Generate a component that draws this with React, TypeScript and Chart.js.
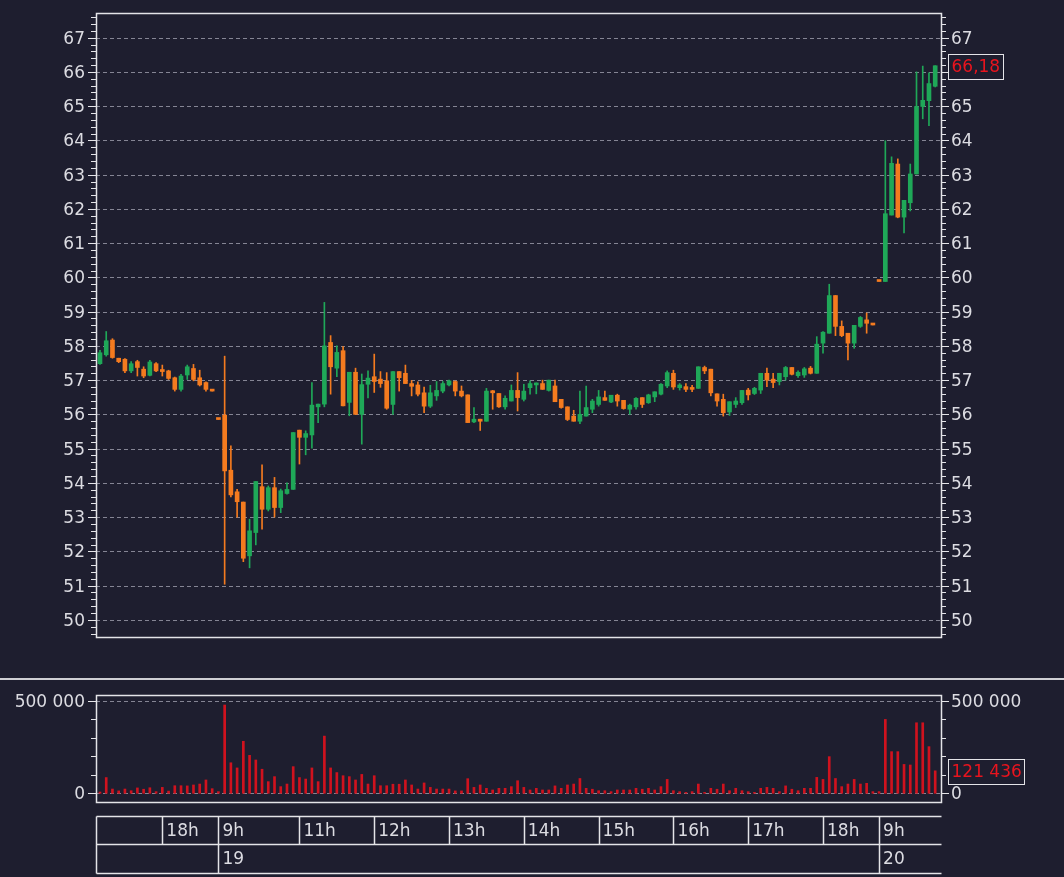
import React, { useEffect, useRef } from 'react';
import { Chart, registerables } from 'chart.js';

Chart.register(...registerables);

// ---------- data ----------
const opens = [
  57.48, 57.74, 58.17, 57.64, 57.61, 57.27, 57.54, 57.32, 57.14, 57.48,
  57.31, 57.27, 57.07, 56.73, 57.15, 57.34, 57.07, 56.93, 56.68, 55.85,
  55.98, 54.37, 53.74, 53.44, 51.87, 52.55, 53.89, 53.23, 53.86, 53.28,
  53.69, 53.81, 55.54, 55.33, 55.40, 56.22, 56.30, 58.10, 57.35, 57.86,
  56.35, 57.23, 56.00, 56.88, 57.10, 57.03, 56.98, 56.29, 57.25, 57.20,
  56.90, 56.86, 56.63, 56.24, 56.54, 56.68, 56.86, 56.96, 56.68, 56.57,
  55.78, 55.86, 55.80, 56.69, 56.61, 56.22, 56.39, 56.70, 56.44, 56.78,
  56.86, 56.90, 56.70, 56.83, 56.44, 56.22, 55.95, 55.80, 55.95, 56.15,
  56.29, 56.49, 56.36, 56.56, 56.41, 56.15, 56.22, 56.49, 56.34, 56.51,
  56.59, 56.83, 57.20, 56.78, 56.81, 56.78, 56.76, 57.37, 57.32, 56.60,
  56.44, 56.07, 56.29, 56.34, 56.71, 56.61, 56.71, 57.20, 57.03, 56.96,
  57.10, 57.37, 57.13, 57.15, 57.35, 57.20, 58.08, 58.37, 59.47, 58.57,
  58.37, 58.08, 58.57, 58.76, 58.61, 59.88, 59.88, 61.82, 63.31, 61.76,
  62.18, 63.02, 64.99, 65.16, 65.58,
];
const highs = [
  57.87, 58.42, 58.21, 57.64, 57.63, 57.54, 57.58, 57.39, 57.58, 57.51,
  57.44, 57.29, 57.09, 57.17, 57.44, 57.46, 57.29, 56.95, 56.68, 55.85,
  57.70, 55.08, 53.81, 53.44, 52.94, 54.04, 54.53, 53.91, 54.16, 53.82,
  54.00, 55.47, 55.54, 55.52, 56.93, 56.30, 59.27, 58.30, 58.00, 57.98,
  57.23, 57.35, 57.18, 57.27, 57.76, 57.25, 57.22, 57.25, 57.25, 57.44,
  56.99, 56.95, 56.80, 56.85, 56.96, 56.96, 57.00, 56.98, 56.83, 56.57,
  56.20, 55.86, 56.76, 56.70, 56.61, 56.54, 56.86, 57.22, 56.88, 56.98,
  56.92, 57.00, 57.00, 57.00, 56.44, 56.22, 56.12, 56.68, 56.83, 56.44,
  56.70, 56.68, 56.56, 56.59, 56.41, 56.30, 56.49, 56.49, 56.59, 56.66,
  56.90, 57.27, 57.29, 56.90, 56.90, 56.85, 57.39, 57.41, 57.32, 56.60,
  56.59, 56.37, 56.49, 56.70, 56.76, 56.79, 57.20, 57.35, 57.20, 57.20,
  57.40, 57.37, 57.27, 57.37, 57.40, 58.27, 58.42, 59.80, 59.47, 58.73,
  58.37, 58.60, 58.86, 58.96, 58.61, 59.88, 63.99, 63.52, 63.46, 62.25,
  63.31, 66.00, 66.17, 65.97, 66.18,
];
const lows = [
  57.46, 57.70, 57.64, 57.51, 57.22, 57.22, 57.12, 57.07, 57.12, 57.25,
  57.12, 57.02, 56.68, 56.68, 57.02, 56.98, 56.83, 56.68, 56.68, 55.85,
  51.04, 53.59, 53.00, 51.70, 51.52, 52.19, 52.65, 53.18, 53.00, 53.13,
  53.67, 53.81, 54.55, 54.82, 55.01, 55.76, 56.22, 56.59, 57.10, 56.25,
  55.96, 56.00, 55.13, 56.48, 56.64, 56.79, 56.15, 56.00, 56.68, 56.90,
  56.54, 56.54, 56.05, 56.20, 56.41, 56.63, 56.83, 56.54, 56.51, 55.76,
  55.76, 55.53, 55.80, 56.15, 56.20, 56.15, 56.39, 56.10, 56.39, 56.59,
  56.60, 56.73, 56.68, 56.37, 56.18, 55.82, 55.80, 55.73, 55.95, 56.05,
  56.24, 56.41, 56.34, 56.24, 56.15, 56.00, 56.15, 56.20, 56.32, 56.37,
  56.57, 56.78, 56.73, 56.71, 56.66, 56.66, 56.76, 57.19, 56.54, 56.24,
  55.95, 55.97, 56.20, 56.29, 56.42, 56.58, 56.61, 56.81, 56.78, 56.86,
  57.00, 57.15, 57.08, 57.08, 57.18, 57.20, 57.79, 58.37, 58.30, 58.27,
  57.59, 57.93, 58.54, 58.37, 58.61, 59.88, 59.88, 61.82, 61.74, 61.30,
  61.94, 63.02, 64.63, 64.43, 65.56,
];
const closes = [
  57.80, 58.15, 57.66, 57.54, 57.27, 57.48, 57.37, 57.12, 57.53, 57.27,
  57.25, 57.05, 56.73, 57.12, 57.39, 57.02, 56.86, 56.73, 56.68, 55.85,
  54.35, 53.65, 53.45, 51.80, 52.60, 54.04, 53.23, 53.86, 53.28, 53.77,
  53.81, 55.47, 55.33, 55.44, 56.27, 56.30, 58.00, 57.39, 57.81, 56.25,
  57.23, 56.00, 56.87, 57.06, 56.96, 56.90, 56.18, 57.25, 57.07, 56.90,
  56.82, 56.59, 56.24, 56.63, 56.70, 56.90, 56.98, 56.68, 56.54, 55.76,
  55.86, 55.80, 56.68, 56.63, 56.22, 56.47, 56.70, 56.49, 56.68, 56.90,
  56.90, 56.73, 57.00, 56.37, 56.20, 55.85, 55.80, 56.00, 56.20, 56.39,
  56.51, 56.41, 56.56, 56.39, 56.17, 56.27, 56.47, 56.29, 56.57, 56.66,
  56.88, 57.22, 56.80, 56.86, 56.73, 56.73, 57.39, 57.27, 56.63, 56.39,
  56.05, 56.37, 56.39, 56.70, 56.57, 56.76, 57.20, 57.00, 56.93, 57.20,
  57.37, 57.17, 57.23, 57.33, 57.20, 58.05, 58.40, 59.47, 58.57, 58.30,
  58.08, 58.60, 58.83, 58.66, 58.61, 59.88, 61.86, 63.33, 61.76, 62.25,
  63.02, 64.99, 65.17, 65.66, 66.18,
];
const volumes = [
  7000, 85000, 23000, 13000, 23000, 14000, 29000, 22000, 30000, 9000,
  32000, 12000, 41000, 41000, 40000, 45000, 50000, 72000, 25000, 9000,
  477000, 165000, 137000, 281000, 205000, 180000, 130000, 63000, 90000, 36000,
  50000, 144000, 85000, 77000, 137000, 63000, 309000, 137000, 112000, 95000,
  90000, 72000, 102000, 50000, 95000, 41000, 41000, 49000, 49000, 72000,
  45000, 23000, 56000, 32000, 23000, 23000, 23000, 13000, 13000, 79000,
  32000, 45000, 27000, 18000, 27000, 27000, 36000, 68000, 32000, 18000,
  27000, 18000, 18000, 40000, 27000, 45000, 50000, 80000, 27000, 22000,
  14000, 14000, 9000, 18000, 18000, 18000, 27000, 22000, 27000, 18000,
  36000, 75000, 14000, 9000, 5000, 9000, 50000, 5000, 27000, 22000,
  50000, 14000, 27000, 14000, 9000, 5000, 27000, 32000, 27000, 9000,
  40000, 22000, 14000, 27000, 27000, 86000, 75000, 198000, 80000, 36000,
  50000, 75000, 50000, 54000, 9000, 9000, 399000, 225000, 225000, 156000,
  153000, 381000, 381000, 252000, 121436,
];
const priceTicks = [50, 51, 52, 53, 54, 55, 56, 57, 58, 59, 60, 61, 62, 63, 64, 65, 66, 67];
const volumeTicks = [0, 500000];
const volumeMinorTicks = [100000, 200000, 300000, 400000];
const hourLabels = ['18h', '9h', '11h', '12h', '13h', '14h', '15h', '16h', '17h', '18h', '9h'];
const hourIndex = [10, 19, 32, 44, 56, 68, 80, 92, 104, 116, 125];
const dayLabels = ['19', '20'];
const dayIndex = [19, 125];

// ---------- style ----------
const BG = '#1e1e2f';
const GREEN = '#1fa858';
const ORANGE = '#f47b1f';
const VOL_RED = '#d0121e';
const TEXT = '#dcdce2';
const FRAME = '#e4e4e8';
const GRID = '#858594';
const FONT = '"DejaVu Sans", sans-serif';
const FONT_SIZE = 17;
const X_MIN = -0.64;
const X_MAX = 134.93;

const fmtSpace = (v: number) => String(Math.round(v)).replace(/\B(?=(\d{3})+(?!\d))/g, ' ');

function drawDashedGrid(chart: any, values: number[]) {
  const { ctx, chartArea: a } = chart;
  const y = chart.scales.y;
  ctx.save();
  ctx.strokeStyle = GRID;
  ctx.lineWidth = 1;
  ctx.setLineDash([4, 3]);
  ctx.beginPath();
  values.forEach((v) => {
    const p = Math.round(y.getPixelForValue(v)) + 0.5;
    ctx.moveTo(a.left, p);
    ctx.lineTo(a.right, p);
  });
  ctx.stroke();
  ctx.restore();
}

function drawFrameAndTicks(chart: any, major: number[], minor: number[]) {
  const { ctx, chartArea: a } = chart;
  const y = chart.scales.y;
  ctx.save();
  ctx.strokeStyle = FRAME;
  ctx.lineWidth = 1;
  ctx.beginPath();
  const mark = (v: number, len: number) => {
    const p = Math.round(y.getPixelForValue(v)) + 0.5;
    ctx.moveTo(a.left - len, p);
    ctx.lineTo(a.left, p);
    ctx.moveTo(a.right, p);
    ctx.lineTo(a.right + len, p);
  };
  minor.forEach((v) => mark(v, 5));
  major.forEach((v) => mark(v, 8));
  ctx.stroke();
  ctx.lineWidth = 1.5;
  ctx.strokeRect(Math.round(a.left) + 0.5, Math.round(a.top) + 0.5, Math.round(a.right - a.left), Math.round(a.bottom - a.top));
  ctx.restore();
}

function drawValueBox(chart: any, value: number, text: string) {
  const { ctx, chartArea: a } = chart;
  const p = chart.scales.y.getPixelForValue(value);
  ctx.save();
  ctx.font = `${FONT_SIZE}px ${FONT}`;
  const w = Math.round(ctx.measureText(text).width + 6);
  const h = 25;
  const x = Math.round(a.right + 7) + 0.5;
  const top = Math.round(p - h / 2 + 1) + 0.5;
  ctx.fillStyle = BG;
  ctx.fillRect(x, top, w, h);
  ctx.strokeStyle = FRAME;
  ctx.lineWidth = 1;
  ctx.strokeRect(x, top, w, h);
  ctx.fillStyle = '#e8141e';
  ctx.textBaseline = 'middle';
  ctx.textAlign = 'left';
  ctx.fillText(text, x + 3, top + h / 2 + 1);
  ctx.restore();
}

function yAxis(position: 'left' | 'right', min: number, max: number, ticks: number[], width: number, fmt: (v: number) => string) {
  return {
    position,
    min,
    max,
    afterBuildTicks: (s: any) => {
      s.ticks = ticks.map((v) => ({ value: v }));
    },
    afterFit: (s: any) => {
      s.width = width;
      s.paddingTop = 0;
      s.paddingBottom = 0;
    },
    ticks: {
      color: TEXT,
      font: { family: FONT, size: FONT_SIZE },
      padding: position === 'left' ? 11 : 10,
      labelOffset: 1.5,
      callback: (v: any) => fmt(Number(v)),
    },
    grid: { display: false, drawTicks: false },
    border: { display: false },
  };
}

const xAxis = { type: 'linear', min: X_MIN, max: X_MAX, display: false, offset: false, grid: { offset: false } };

function PriceChart() {
  const ref = useRef<HTMLCanvasElement>(null);
  useEffect(() => {
    const colors = closes.map((c, i) => (c > opens[i] ? GREEN : ORANGE));
    const minor: number[] = [];
    for (let k = 248; k <= 338; k++) if (k % 5 !== 0) minor.push(k / 5);
    const decor = {
      id: 'priceDecor',
      beforeDatasetsDraw: (chart: any) => drawDashedGrid(chart, priceTicks),
      afterDraw: (chart: any) => {
        drawFrameAndTicks(chart, priceTicks, minor);
        const last = closes[closes.length - 1];
        drawValueBox(chart, last, last.toFixed(2).replace('.', ','));
      },
    };
    const chart = new Chart(ref.current as HTMLCanvasElement, {
      type: 'bar',
      data: {
        datasets: [
          {
            data: closes.map((c, i) => ({ x: i, y: [opens[i], c] })) as any,
            backgroundColor: colors,
            barThickness: 4,
            minBarLength: 2,
            grouped: false,
            borderWidth: 0,
          } as any,
          {
            data: closes.map((_, i) => ({ x: i, y: [lows[i], highs[i]] })) as any,
            backgroundColor: colors,
            barThickness: 1,
            grouped: false,
            borderWidth: 0,
          } as any,
        ],
      },
      options: {
        animation: false,
        responsive: false,
        maintainAspectRatio: false,
        events: [],
        layout: { padding: { top: 13, bottom: 23, left: 0, right: 0 } },
        plugins: { legend: { display: false }, tooltip: { enabled: false } },
        scales: {
          x: xAxis as any,
          y: yAxis('left', 49.5, 67.72, priceTicks, 96, (v) => String(v)) as any,
          y2: yAxis('right', 49.5, 67.72, priceTicks, 123, (v) => String(v)) as any,
        },
      },
      plugins: [decor],
    });
    return () => chart.destroy();
  }, []);
  return <canvas ref={ref} width={1064} height={660} style={{ position: 'absolute', left: 0, top: 0 }} />;
}

function VolumeChart() {
  const ref = useRef<HTMLCanvasElement>(null);
  useEffect(() => {
    const decor = {
      id: 'volDecor',
      beforeDatasetsDraw: (chart: any) => drawDashedGrid(chart, volumeTicks),
      afterDraw: (chart: any) => {
        drawFrameAndTicks(chart, volumeTicks, volumeMinorTicks);
        const last = volumes[volumes.length - 1];
        drawValueBox(chart, last, fmtSpace(last));
        // time table under the volume panel
        const { ctx, chartArea: a } = chart;
        const xs = chart.scales.x;
        const t0 = Math.round(a.bottom + 14) + 0.5;
        const t1 = Math.round(a.bottom + 42) + 0.5;
        const t2 = Math.round(a.bottom + 71) + 0.5;
        const L = Math.round(a.left) + 0.5;
        const R = Math.round(a.right) + 0.5;
        ctx.save();
        ctx.strokeStyle = FRAME;
        ctx.lineWidth = 1.5;
        ctx.beginPath();
        ctx.moveTo(L, t0); ctx.lineTo(R, t0);
        ctx.moveTo(L, t1); ctx.lineTo(R, t1);
        ctx.moveTo(L, t2); ctx.lineTo(R, t2);
        ctx.moveTo(L, t0); ctx.lineTo(L, t2);
        hourIndex.forEach((i) => {
          const px = Math.round(xs.getPixelForValue(i)) + 0.5;
          ctx.moveTo(px, t0); ctx.lineTo(px, t1);
        });
        dayIndex.forEach((i) => {
          const px = Math.round(xs.getPixelForValue(i)) + 0.5;
          ctx.moveTo(px, t1); ctx.lineTo(px, t2);
        });
        ctx.stroke();
        ctx.fillStyle = TEXT;
        ctx.font = `${FONT_SIZE}px ${FONT}`;
        ctx.textAlign = 'left';
        ctx.textBaseline = 'middle';
        hourLabels.forEach((lab, k) => {
          ctx.fillText(lab, xs.getPixelForValue(hourIndex[k]) + 4, (t0 + t1) / 2 + 1);
        });
        dayLabels.forEach((lab, k) => {
          ctx.fillText(lab, xs.getPixelForValue(dayIndex[k]) + 4, (t1 + t2) / 2 + 1);
        });
        ctx.restore();
      },
    };
    const chart = new Chart(ref.current as HTMLCanvasElement, {
      type: 'bar',
      data: {
        datasets: [
          {
            data: volumes.map((v, i) => ({ x: i, y: v })) as any,
            backgroundColor: VOL_RED,
            barThickness: 2,
            grouped: false,
            borderWidth: 0,
          } as any,
        ],
      },
      options: {
        animation: false,
        responsive: false,
        maintainAspectRatio: false,
        events: [],
        layout: { padding: { top: 14, bottom: 75, left: 0, right: 0 } },
        plugins: { legend: { display: false }, tooltip: { enabled: false } },
        scales: {
          x: xAxis as any,
          y: yAxis('left', -47000, 531000, volumeTicks, 96, fmtSpace) as any,
          y2: yAxis('right', -47000, 531000, volumeTicks, 123, fmtSpace) as any,
        },
      },
      plugins: [decor],
    });
    return () => chart.destroy();
  }, []);
  return <canvas ref={ref} width={1064} height={196} style={{ position: 'absolute', left: 0, top: 681 }} />;
}

export default function App() {
  useEffect(() => {
    document.body.style.margin = '0';
    document.body.style.background = BG;
  }, []);
  return (
    <div style={{ position: 'fixed', left: 0, top: 0, width: 1064, height: 877, background: BG, overflow: 'hidden' }}>
      <PriceChart />
      <div style={{ position: 'absolute', left: 0, top: 678, width: 1064, height: 2, background: '#cfcfd4' }} />
      <VolumeChart />
    </div>
  );
}
